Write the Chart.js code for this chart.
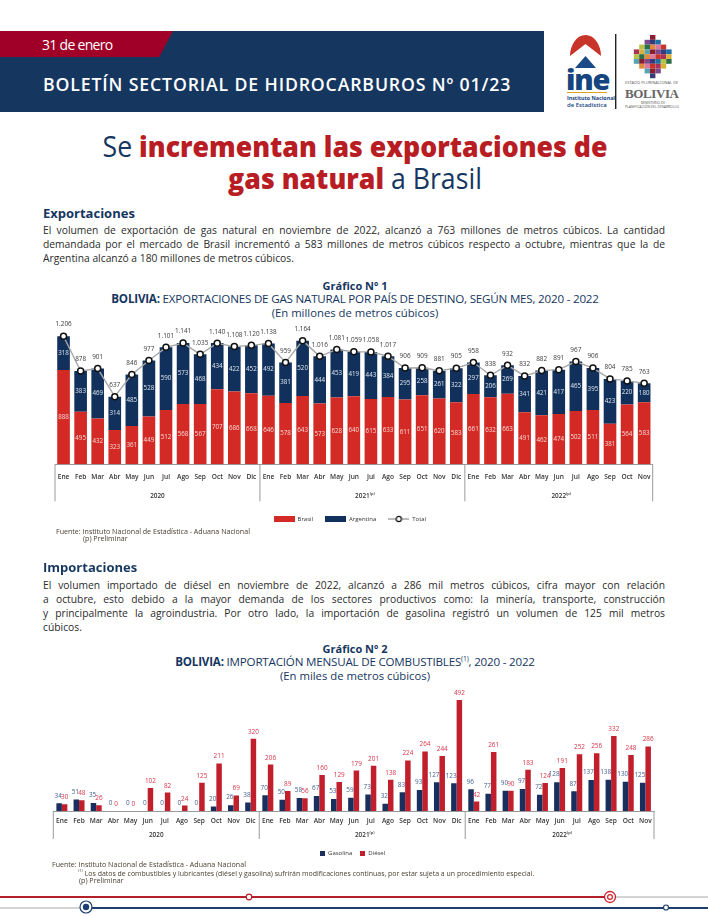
<!DOCTYPE html>
<html lang="es">
<head>
<meta charset="utf-8">
<title>Boletín Sectorial de Hidrocarburos</title>
<script src="https://cdn.jsdelivr.net/npm/chart.js@4"></script>
<style>
html, body { margin: 0; padding: 0; background: #fff; }
body { position: relative; width: 708px; height: 916px; overflow: hidden; font-family: "Open Sans", sans-serif; color: #222; }
.abs { position: absolute; white-space: nowrap; transform: translateY(-50%); line-height: 1; }
.just { position: absolute; left: 43px; width: 622px; transform: translateY(-50%); font-size: 10.3px; line-height: 1.2; text-align: justify; text-align-last: justify; color: #2b2b2b; }
.last { text-align-last: left; }
.center { position: absolute; left: 0; width: 710px; text-align: center; transform: translateY(-50%); line-height: 1; white-space: nowrap; }
.h2 { font-size: 13px; font-weight: 700; color: #15365f; left: 43px; }
.title { font-size: 29px; color: #15365f; transform: translateY(-50%) scaleX(0.92); }
.title b { color: #b81d24; font-weight: 800; }
.gnum { font-size: 11px; font-weight: 700; color: #15365f; }
.gsub { font-size: 11.6px; color: #15365f; letter-spacing: -0.2px; }
.gsub b { font-weight: 700; }
.gunit { font-size: 11.3px; color: #15365f; }
.note { font-size: 7.1px; color: #4a4030; }
sup { font-size: 60%; line-height: 0; }
canvas { position: absolute; left: 0; top: 0; }
#wrap1 { position: absolute; left: 0; top: 315px; width: 708px; height: 217px; }
#wrap2 { position: absolute; left: 0; top: 680px; width: 708px; height: 186px; }
#band { position: absolute; left: 0; top: 31px; width: 544px; height: 81px; background: #15365f; }
#tab { position: absolute; left: 0; top: 31px; width: 173px; height: 26px; background: #a00027; clip-path: polygon(0 0, 100% 0, 92% 100%, 0 100%); }
svg { position: absolute; left: 0; top: 0; }
</style>
</head>
<body>
<div id="band"></div>
<div id="tab"></div>
<div class="abs" style="left:42px;top:45px;color:#fff;font-size:14px;font-weight:500;letter-spacing:-0.7px">31 de enero</div>
<div class="abs" style="left:43px;top:85px;color:#fff;font-size:17.7px;font-weight:600;letter-spacing:0.85px">BOLETÍN SECTORIAL DE HIDROCARBUROS Nº 01/23</div>

<svg width="708" height="916" id="deco">
  <path d="M570 56 A15.5 21 0 1 1 601 56 L585.5 44 Z" fill="#c9342a"/>
  <path d="M575 68 L585.5 56 L596 68 Z" fill="#1c4a86"/>
  <rect x="567" y="92" width="40" height="1" fill="#e0a020"/>
  <rect x="615" y="34" width="1.4" height="75" fill="#222"/>
  <g id="mosaic"></g>
  <rect x="0" y="896" width="605" height="2" fill="#b3202a"/>
  <rect x="605" y="896" width="103" height="2" fill="#d4d4d4"/>
  <rect x="0" y="907" width="86" height="2" fill="#d4d4d4"/>
  <rect x="86" y="907" width="622" height="2" fill="#1d3f70"/>
  <circle cx="249" cy="897" r="2.8" fill="#fff" stroke="#b3202a" stroke-width="1.2"/>
  <circle cx="610" cy="897" r="5.5" fill="#fff" stroke="#d3202a" stroke-width="1.3"/>
  <circle cx="610" cy="897" r="2.4" fill="none" stroke="#d3202a" stroke-width="1.2"/>
  <circle cx="86" cy="907" r="6" fill="#fff" stroke="#1d3f70" stroke-width="1.2"/>
  <circle cx="86" cy="907" r="3.2" fill="#1d3f70"/>
  <circle cx="666" cy="907.5" r="2.5" fill="#fff" stroke="#1d3f70" stroke-width="1.2"/>
</svg>
<div class="abs" style="left:566px;top:78px;font-size:29px;font-weight:800;color:#15447f;letter-spacing:-1.2px">ine</div>
<div class="abs" style="left:567px;top:98.5px;font-size:5.3px;font-weight:700;color:#15447f">Instituto Nacional</div>
<div class="abs" style="left:567px;top:105px;font-size:6px;font-weight:600;color:#15447f">de Estadística</div>
<div class="abs" style="left:625px;top:83px;font-size:4px;color:#555">ESTADO PLURINACIONAL DE</div>
<div class="abs" style="left:625px;top:92.5px;font-size:13px;font-weight:700;color:#666;letter-spacing:-0.4px;font-family:'Liberation Serif',serif">BOLIVIA</div>
<div class="abs" style="left:641px;top:103px;font-size:3.4px;color:#555">MINISTERIO DE</div>
<div class="abs" style="left:625px;top:107px;font-size:3.4px;color:#555">PLANIFICACIÓN DEL DESARROLLO</div>

<div class="center title" style="top:145px">Se <b>incrementan las exportaciones de</b></div>
<div class="center title" style="top:177px"><b>gas natural</b> a Brasil</div>

<div class="abs h2" style="top:213px">Exportaciones</div>
<div class="just" style="top:230px">El volumen de exportación de gas natural en noviembre de 2022, alcanzó a 763 millones de metros cúbicos. La cantidad</div>
<div class="just" style="top:244px">demandada por el mercado de Brasil incrementó a 583 millones de metros cúbicos respecto a octubre, mientras que la de</div>
<div class="just last" style="top:258px">Argentina alcanzó a 180 millones de metros cúbicos.</div>
<div class="center gnum" style="top:285px">Gráfico Nº 1</div>
<div class="center gsub" style="top:298.5px"><b>BOLIVIA:</b> EXPORTACIONES DE GAS NATURAL POR PAÍS DE DESTINO, SEGÚN MES, 2020 - 2022</div>
<div class="center gunit" style="top:313px">(En millones de metros cúbicos)</div>

<div id="wrap1"><canvas id="exportChart" width="708" height="217"></canvas></div>
<div class="abs note" style="left:56px;top:531.5px">Fuente: Instituto Nacional de Estadística - Aduana Nacional</div>
<div class="abs note" style="left:83px;top:539px">(p) Preliminar</div>

<div class="abs h2" style="top:567px">Importaciones</div>
<div class="just" style="top:585px">El volumen importado de diésel en noviembre de 2022, alcanzó a 286 mil metros cúbicos, cifra mayor con relación</div>
<div class="just" style="top:599px">a octubre, esto debido a la mayor demanda de los sectores productivos como: la minería, transporte, construcción</div>
<div class="just" style="top:613px">y principalmente la agroindustria. Por otro lado, la importación de gasolina registró un volumen de 125 mil metros</div>
<div class="just last" style="top:627px">cúbicos.</div>
<div class="center gnum" style="top:648px">Gráfico Nº 2</div>
<div class="center gsub" style="top:662px"><b>BOLIVIA:</b> IMPORTACIÓN MENSUAL DE COMBUSTIBLES<sup>(1)</sup>, 2020 - 2022</div>
<div class="center gunit" style="top:676px">(En miles de metros cúbicos)</div>

<div id="wrap2"><canvas id="importChart" width="708" height="186"></canvas></div>
<div class="abs note" style="left:52px;top:865px">Fuente: Instituto Nacional de Estadística - Aduana Nacional</div>
<div class="abs note" style="left:78px;top:873px;font-size:6.98px"><sup>(1)</sup> Los datos de combustibles y lubricantes (diésel y gasolina) sufrirán modificaciones continuas, por estar sujeta a un procedimiento especial.</div>
<div class="abs note" style="left:79px;top:881px">(p) Preliminar</div>

<script>
// ==========================================
// DATOS
// ==========================================
const months = ['Ene','Feb','Mar','Abr','May','Jun','Jul','Ago','Sep','Oct','Nov','Dic',
                'Ene','Feb','Mar','Abr','May','Jun','Jul','Ago','Sep','Oct','Nov','Dic',
                'Ene','Feb','Mar','Abr','May','Jun','Jul','Ago','Sep','Oct','Nov'];
const yearLabels = ['2020','2021','2022'];
const yearNotes = ['', '(p)', '(p)'];
const yearCounts = [12, 12, 11];

const brasil = [888,495,432,323,361,449,512,568,567,707,686,668,
                646,578,643,573,628,640,615,633,611,651,620,583,
                661,632,663,491,462,474,502,511,381,564,583];
const argentina = [318,383,469,314,485,528,590,573,468,434,422,452,
                   492,381,520,444,453,419,443,384,295,258,261,322,
                   297,206,269,341,421,417,465,395,423,220,180];
const totalExport = [1206,878,901,637,846,977,1101,1141,1035,1140,1108,1120,
                     1138,959,1164,1016,1081,1059,1058,1017,906,909,881,905,
                     958,838,932,832,882,891,967,906,804,785,763];

const gasolina = [34,51,35,0,0,0,0,0,0,20,26,38,
                  70,50,58,67,53,59,73,32,83,93,127,123,
                  96,77,90,97,72,128,87,137,138,130,125];
const diesel = [30,48,26,0,0,102,82,24,125,211,69,320,
                206,89,56,160,129,179,201,138,224,264,244,492,
                42,261,90,183,124,191,252,256,332,248,286];

const FONT = '"Open Sans", sans-serif';

// formato boliviano: 1.206
const fmt = v => v >= 1000 ? String(v).replace(/(\d)(\d{3})$/, '$1.$2') : String(v);

// ==========================================
// PLUGINS
// ==========================================
const yearBrackets = {
    id: 'yearBrackets',
    afterDraw(chart, args, opts) {
        const { ctx, scales: { x } } = chart;
        const step = x.getPixelForValue(1) - x.getPixelForValue(0);
        const y0 = x.top;
        let start = 0;
        ctx.save();
        ctx.strokeStyle = '#9a9a9a';
        ctx.lineWidth = 1;
        const tick = px => {
            ctx.beginPath();
            ctx.moveTo(px, y0);
            ctx.lineTo(px, y0 + opts.drop);
            ctx.stroke();
        };
        tick(x.getPixelForValue(0) - step / 2);
        yearLabels.forEach((label, i) => {
            const end = start + yearCounts[i];
            const right = x.getPixelForValue(end - 1) + step / 2;
            tick(right);
            const cx = (x.getPixelForValue(start) + x.getPixelForValue(end - 1)) / 2;
            ctx.font = `600 6.4px ${FONT}`;
            ctx.fillStyle = '#333';
            ctx.textBaseline = 'middle';
            ctx.textAlign = 'center';
            ctx.fillText(label, cx, y0 + opts.textY);
            if (yearNotes[i]) {
                const w = ctx.measureText(label).width;
                ctx.font = `600 4px ${FONT}`;
                ctx.textAlign = 'left';
                ctx.fillText(yearNotes[i], cx + w / 2, y0 + opts.textY - 2);
            }
            start = end;
        });
        ctx.restore();
    }
};

// etiquetas de valor sobre cada marca
const valueLabels = {
    id: 'valueLabels',
    afterDatasetsDraw(chart, args, opts) {
        const { ctx } = chart;
        ctx.save();
        ctx.textAlign = 'center';
        ctx.textBaseline = 'middle';
        opts.sets.forEach(set => {
            const meta = chart.getDatasetMeta(set.index);
            const values = chart.data.datasets[set.index].data;
            ctx.font = `${set.weight || 400} ${set.size}px ${FONT}`;
            ctx.fillStyle = set.color;
            meta.data.forEach((el, i) => {
                const text = fmt(values[i]);
                const y = set.inside ? (el.y + el.base) / 2 : el.y - set.offset;
                // sin pisar la barra vecina: el texto no pasa del borde derecho de su barra
                const x = set.keepLeft ? el.x + Math.min(0, el.width / 2 - ctx.measureText(text).width / 2) : el.x;
                ctx.fillText(text, x, y);
            });
        });
        ctx.restore();
    }
};

// la leyenda del original no queda centrada sobre el área del gráfico
const legendShift = {
    id: 'legendShift',
    afterLayout(chart, args, opts) {
        chart.legend.left += opts.dx;
        chart.legend.right += opts.dx;
    }
};

// muestras de la leyenda: barra o línea con marcador
function swatch(w, h, draw) {
    const c = document.createElement('canvas');
    c.width = w;
    c.height = h;
    draw(c.getContext('2d'));
    return c;
}
const box = (w, h, color) => swatch(w, h, g => { g.fillStyle = color; g.fillRect(0, 0, w, h); });
const lineMark = swatch(21, 8, g => {
    g.strokeStyle = '#a5a5a5';
    g.lineWidth = 1.5;
    g.beginPath(); g.moveTo(0, 4); g.lineTo(21, 4); g.stroke();
    g.fillStyle = '#fff';
    g.strokeStyle = '#111';
    g.lineWidth = 1.2;
    g.beginPath(); g.arc(10.5, 4, 2.6, 0, Math.PI * 2); g.fill(); g.stroke();
});

const axisX = (height, padding) => ({
    stacked: true,
    grid: { display: false, drawTicks: false },
    border: { display: true, color: '#9a9a9a', width: 1 },
    ticks: { autoSkip: false, maxRotation: 0, padding, color: '#333', font: { family: FONT, size: 6.6, weight: '600' } },
    afterFit: s => { s.height = height; }
});

function legendOf(images) {
    return {
        position: 'bottom',
        labels: {
            usePointStyle: true,
            pointStyleWidth: images.w,
            boxHeight: 6,
            padding: images.gap,
            color: '#333',
            font: { family: FONT, size: 6 },
            generateLabels: chart => chart.data.datasets.map((d, i) => ({
                text: d.label,
                pointStyle: images.list[i],
                datasetIndex: i,
                hidden: false,
                lineWidth: 0,
                fontColor: '#333'
            }))
        }
    };
}

// ==========================================
// GRÁFICO 1: EXPORTACIONES
// ==========================================
new Chart(document.getElementById('exportChart'), {
    type: 'bar',
    data: {
        labels: months,
        datasets: [
            { label: 'Brasil', data: brasil, backgroundColor: '#d32a26', barPercentage: 0.74, categoryPercentage: 1, stack: 'a', order: 2 },
            { label: 'Argentina', data: argentina, backgroundColor: '#11315c', barPercentage: 0.74, categoryPercentage: 1, stack: 'a', order: 2 },
            { type: 'line', label: 'Total', data: totalExport, borderColor: '#a8a8a8', borderWidth: 1.4, tension: 0, pointRadius: 3, pointBorderWidth: 1.5, pointBackgroundColor: '#fff', pointBorderColor: '#111', order: 1 }
        ]
    },
    plugins: [yearBrackets, valueLabels, legendShift],
    options: {
        responsive: false,
        animation: false,
        layout: { padding: { left: 55, right: 55.3, top: 11.2, bottom: 0 } },
        scales: {
            x: axisX(39.7, 9),
            y: { stacked: true, display: false, min: 0, max: 1300 }
        },
        plugins: {
            tooltip: { enabled: false },
            legend: legendOf({ w: 21, gap: 12, list: [box(21, 6, '#d32a26'), box(21, 6, '#11315c'), lineMark] }),
            legendShift: { dx: -4 },
            yearBrackets: { drop: 37, textY: 31.5 },
            valueLabels: {
                sets: [
                    { index: 0, inside: true, size: 6.2, color: '#f6d9d6' },
                    { index: 1, inside: true, size: 6.2, color: '#dfe6ee' },
                    { index: 2, offset: 11.5, size: 6.4, color: '#3a3a3a', weight: 500 }
                ]
            }
        }
    }
});

// ==========================================
// GRÁFICO 2: IMPORTACIONES
// ==========================================
const axis2 = axisX(31, 6);
axis2.stacked = false;

new Chart(document.getElementById('importChart'), {
    type: 'bar',
    data: {
        labels: months,
        datasets: [
            { label: 'Gasolina', data: gasolina, backgroundColor: '#1b2f5e', barPercentage: 1, categoryPercentage: 0.64 },
            { label: 'Diésel', data: diesel, backgroundColor: '#c01f2b', barPercentage: 1, categoryPercentage: 0.64 }
        ]
    },
    plugins: [yearBrackets, valueLabels, legendShift],
    options: {
        responsive: false,
        animation: false,
        layout: { padding: { left: 53.3, right: 54, top: 13.7, bottom: 0 } },
        scales: {
            x: axis2,
            y: { display: false, min: 0, max: 520 }
        },
        plugins: {
            tooltip: { enabled: false },
            legend: legendOf({ w: 5, gap: 8, list: [box(5, 5, '#1b2f5e'), box(5, 5, '#c01f2b')] }),
            legendShift: { dx: -1 },
            yearBrackets: { drop: 28, textY: 24 },
            valueLabels: {
                sets: [
                    { index: 0, offset: 7.5, size: 6.4, color: '#3f5f8f', keepLeft: true },
                    { index: 1, offset: 6.8, size: 6.4, color: '#d8344a' }
                ]
            }
        }
    }
});

// escudo de Bolivia, mosaico de colores
const mosaicColors = ['#8c1d2c','#2c6e49','#d9b13b','#1d6fa5','#c9342a','#7a4a8c','#e28a3a','#58a4b0','#b7c24a','#a8325a','#3a3a7a','#d97aa0'];
const mosaicRows = [[0],[-1,0,1],[-2,-1,0,1,2],[-3,-2,-1,0,1,2,3],[-3,-2,-1,0,1,2,3],[-3,-2,-1,0,1,2,3],[-2,-1,0,1,2],[-1,0,1],[0]];
const mosaic = document.getElementById('mosaic');
let k = 0;
mosaicRows.forEach((row, r) => row.forEach(c => {
    const rect = document.createElementNS('http://www.w3.org/2000/svg', 'rect');
    rect.setAttribute('x', 653 - 3 + c * 5.4);
    rect.setAttribute('y', 35 + r * 4.8);
    rect.setAttribute('width', 5.4);
    rect.setAttribute('height', 4.8);
    rect.setAttribute('fill', mosaicColors[(k++ * 5) % mosaicColors.length]);
    mosaic.appendChild(rect);
}));
</script>
</body>
</html>
